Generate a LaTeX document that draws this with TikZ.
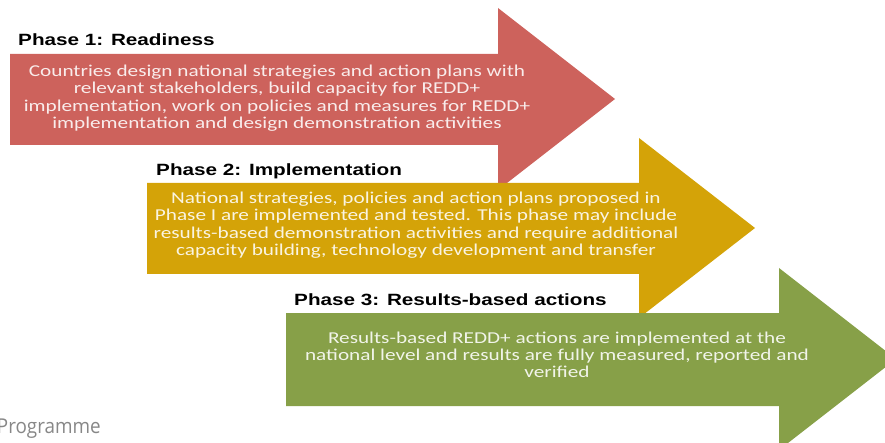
\documentclass[tikz,border=0pt]{standalone}
\usepackage{fontspec}
\usepackage{graphicx}
\setmainfont{Liberation Sans}
\newfontfamily\bodyfont{Carlito}
\newfontfamily\notefont{Open Sans}

\definecolor{phaseRed}{RGB}{205,98,92}
\definecolor{phaseGold}{RGB}{212,163,8}
\definecolor{phaseGreen}{RGB}{135,160,72}
\definecolor{noteGray}{RGB}{135,135,135}

% horizontal stretch of all lettering
\newcommand{\hstretch}{1.27}
\newcommand{\phasetitle}[1]{\scalebox{\hstretch}[1]{\fontsize{16.3}{19}\selectfont\bfseries #1}}
\newcommand{\phasebody}[1]{\scalebox{1.28}[1]{\bodyfont\fontsize{16.6}{17.4}\selectfont
  \begin{tabular}{@{}c@{}}#1\end{tabular}}}

\begin{document}
\begin{tikzpicture}[x=1pt,y=-1pt,
  titletext/.style={anchor=west,inner sep=0pt,text=black},
  bodytext/.style={inner sep=0pt}]
\useasboundingbox (0,0) rectangle (885,443);

% phase arrows, later ones overlapping the heads of earlier ones
\fill[phaseRed] (10,54) -- (498,54) -- (498,8) -- (615,99) -- (498,190)
  -- (498,145) -- (10,145) -- cycle;
\fill[phaseGold] (147,183) -- (639,183) -- (639,138) -- (755,228) -- (639,318)
  -- (639,274) -- (147,274) -- cycle;
\fill[phaseGreen] (286,313) -- (779,313) -- (779,268) -- (896,359) -- (779,450)
  -- (779,406) -- (286,406) -- cycle;

% phase titles
\node[titletext] (t1) at (18,40) {\phasetitle{Phase 1: Readiness}};
\node[titletext] (t2) at (156,171) {\phasetitle{Phase 2: Implementation}};
\node[titletext] (t3) at (294,300) {\phasetitle{Phase 3: Results-based actions}};

% phase descriptions
\node[bodytext,text=white!88!phaseRed] (b1) at (277,99) {\phasebody{%
  Countries design national strategies and action plans with\\
  relevant stakeholders, build capacity for REDD+\\
  implementation, work on policies and measures for REDD+\\
  implementation and design demonstration activities}};
\node[bodytext,text=white!88!phaseGold] (b2) at (416,226) {\phasebody{%
  National strategies, policies and action plans proposed in\\
  Phase I are implemented and tested. This phase may include\\
  results-based demonstration activities and require additional\\
  capacity building, technology development and transfer}};
\node[bodytext,text=white!88!phaseGreen] (b3) at (557,357) {\phasebody{%
  Results-based REDD+ actions are implemented at the\\
  national level and results are fully measured, reported and\\
  verified}};

% source note, cut at the left edge
\node[anchor=base east,inner sep=0pt,text=noteGray] (note) at (101,433)
  {\scalebox{0.92}[1]{\notefont\fontsize{20.5}{22}\selectfont Programme}};
\end{tikzpicture}
\end{document}
